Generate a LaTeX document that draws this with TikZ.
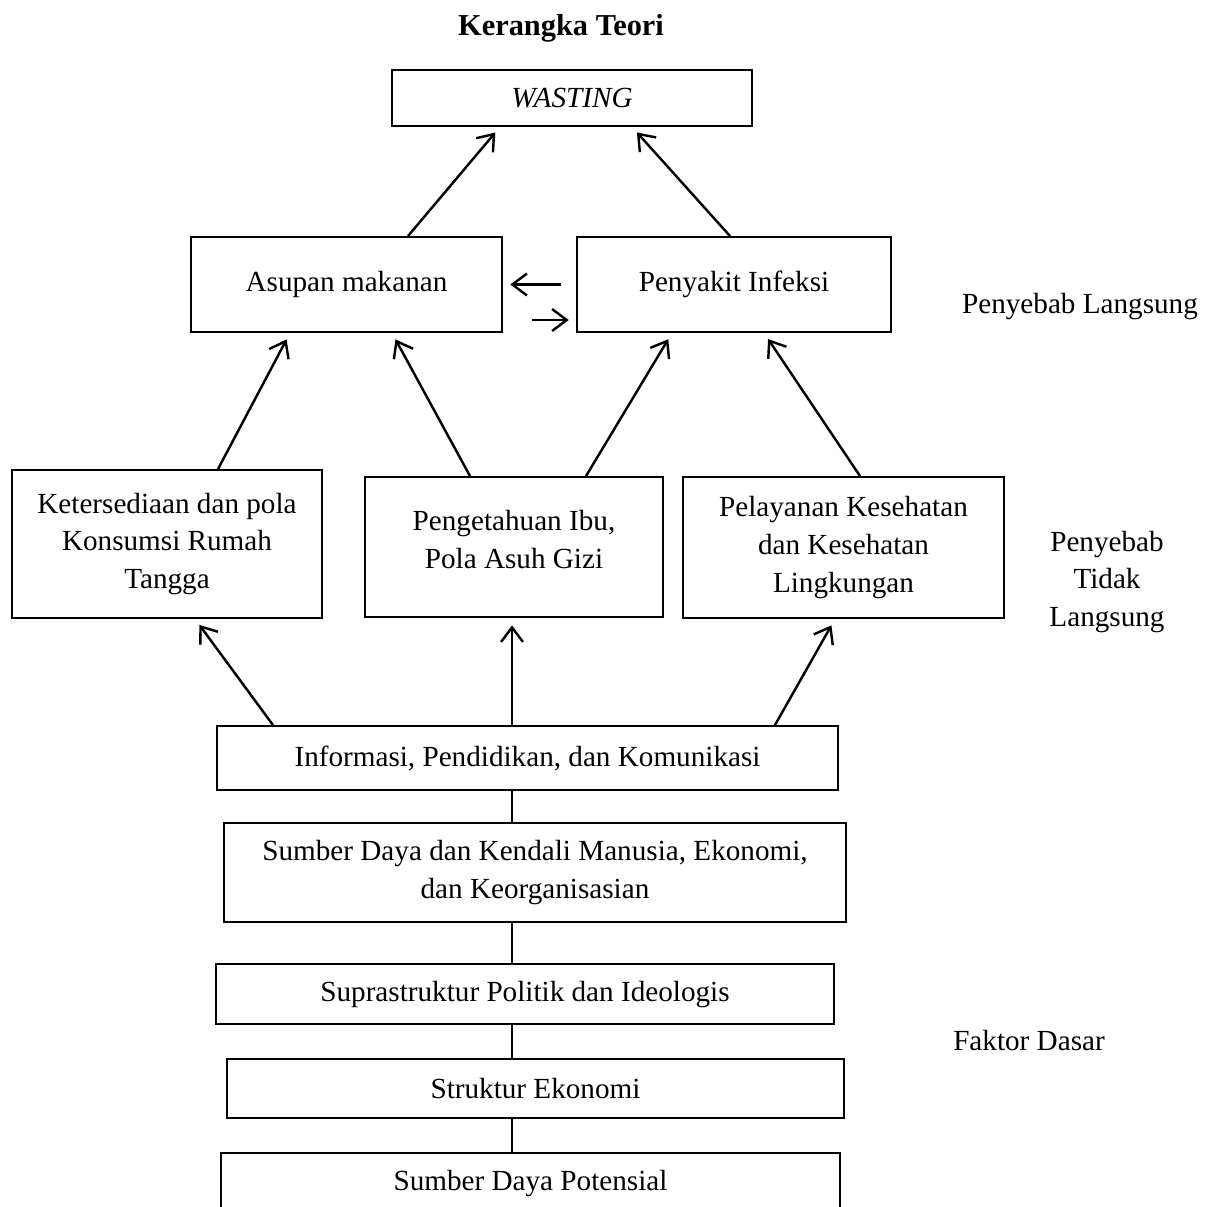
\documentclass[tikz,border=0pt]{standalone}
\usepackage{fontspec}
\setmainfont{Liberation Serif}
\usetikzlibrary{arrows.meta}

\newcommand{\px}{0.4113pt}

\begin{document}
\begin{tikzpicture}[x=\px, y=-\px,
          box/.style={draw, line width=0.8pt, align=center, inner sep=0pt, font=\fontsize{12}{15.5}\selectfont},
          lbl/.style={align=center, font=\fontsize{12}{15.5}\selectfont},
          arr/.style={-{Straight Barb[length=6pt, width=9pt]}, line width=1pt, shorten >=3pt},
          link/.style={line width=0.5pt},
        ]
          \useasboundingbox (0,0) rectangle (1218,1206);

          \node[lbl, font=\bfseries\fontsize{12.5}{15.5}\selectfont] (title) at (561,28) {Kerangka Teori};

          \node[box, minimum width=360*\px, minimum height=56*\px] (wasting) at (572,98) {\textit{WASTING}};
          \node[box, minimum width=311*\px, minimum height=95*\px] (asupan) at (346.5,284.5) {Asupan makanan};
          \node[box, minimum width=314*\px, minimum height=95*\px] (infeksi) at (734,284.5) {Penyakit Infeksi};

          \node[box, minimum width=310*\px, minimum height=148*\px] (sedia) at (167,544) {Ketersediaan dan pola\\Konsumsi Rumah\\Tangga};
          \node[box, minimum width=298*\px, minimum height=140*\px] (ibu) at (514,547) {Pengetahuan Ibu,\\Pola Asuh Gizi\\[-9pt]\mbox{}};
          \node[box, minimum width=321*\px, minimum height=141*\px] (layan) at (843.5,547.5) {Pelayanan Kesehatan\\dan Kesehatan\\Lingkungan};

          \node[box, minimum width=621*\px, minimum height=64*\px] (info) at (527.5,758) {Informasi, Pendidikan, dan Komunikasi};
          \node[box, minimum width=622*\px, minimum height=99*\px] (sdm) at (535,872.5) {Sumber Daya dan Kendali Manusia, Ekonomi,\\dan Keorganisasian};
          \node[box, minimum width=618*\px, minimum height=60*\px] (supra) at (525,994) {Suprastruktur Politik dan Ideologis};
          \node[box, minimum width=617*\px, minimum height=59*\px] (struktur) at (535.5,1088.5) {Struktur Ekonomi};
          \node[box, minimum width=619*\px, minimum height=60*\px] (potensi) at (530.5,1183) {Sumber Daya Potensial};

          \node[lbl] (langsung) at (1080,307) {Penyebab Langsung};
          \node[lbl] (tdklangsung) at (1107,582) {Penyebab\\Tidak\\Langsung};
          \node[lbl] (dasar) at (1029,1040) {Faktor Dasar};

          % penyebab langsung
          \draw[arr] ([xshift=61.5*\px]asupan.north) -- ([xshift=-72*\px]wasting.south);
          \draw[arr] ([xshift=-4*\px]infeksi.north) -- ([xshift=60*\px]wasting.south);
          \coordinate (kiri) at (561,284.5);
          \coordinate (kanan) at (532,320);
          \draw[arr] (kiri) -- (asupan.east);
          \draw[arr] (kanan) -- (kanan -| infeksi.west);

          % penyebab tidak langsung
          \draw[arr] ([xshift=51*\px]sedia.north) -- ([xshift=-56.5*\px]asupan.south);
          \draw[arr] ([xshift=-44*\px]ibu.north) -- ([xshift=45.5*\px]asupan.south);
          \draw[arr] ([xshift=72*\px]ibu.north) -- ([xshift=-62*\px]infeksi.south);
          \draw[arr] ([xshift=16.5*\px]layan.north) -- ([xshift=30*\px]infeksi.south);

          \draw[arr] ([xshift=-254.5*\px]info.north) -- ([xshift=28*\px]sedia.south);
          \draw[arr] ([xshift=-15.5*\px]info.north) -- ([xshift=-2*\px]ibu.south);
          \draw[arr] ([xshift=247.5*\px]info.north) -- ([xshift=-8.5*\px]layan.south);

          % faktor dasar
          \draw[link] ([xshift=-15.5*\px]info.south) -- ([xshift=-23*\px]sdm.north);
          \draw[link] ([xshift=-23*\px]sdm.south) -- ([xshift=-13*\px]supra.north);
          \draw[link] ([xshift=-13*\px]supra.south) -- ([xshift=-23.5*\px]struktur.north);
          \draw[link] ([xshift=-23.5*\px]struktur.south) -- ([xshift=-18.5*\px]potensi.north);
        \end{tikzpicture}
\end{document}
